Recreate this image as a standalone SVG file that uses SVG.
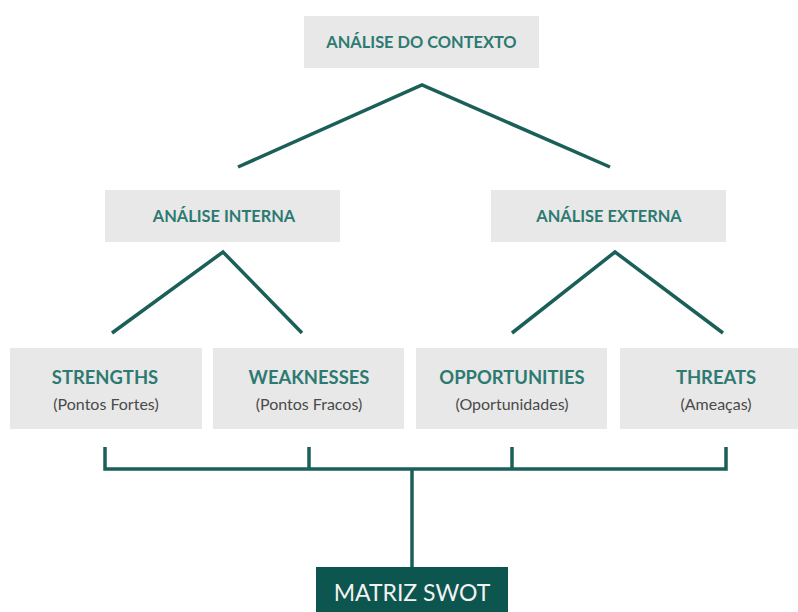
<svg xmlns="http://www.w3.org/2000/svg" width="798" height="612" viewBox="0 0 798 612">
  <style>
    .box { fill: #e8e8e8; }
    .head { font-family: Lato, "Open Sans", sans-serif; font-weight: bold; fill: #2d7a72; text-anchor: middle; }
    .h1 { font-size: 16.4px; }
    .h2 { font-size: 18.4px; }
    .sub { font-family: Lato, "Open Sans", sans-serif; font-size: 16px; fill: #4a4a4a; text-anchor: middle; }
    .conn { fill: none; stroke: #1b5f59; stroke-width: 3.5; stroke-linejoin: miter; }
    .swot { fill: #0d554f; }
    .swot-t { font-family: Lato, "Open Sans", sans-serif; font-size: 23px; fill: #f2f2f2; text-anchor: middle; }
  </style>
  <rect width="798" height="612" fill="#ffffff"/>

  <g id="connectors">
    <polyline class="conn" points="238,167 422,85 610,167"/>
    <polyline class="conn" points="112,333 223,252 302,333"/>
    <polyline class="conn" points="512,333 615,252 723,333"/>
    <polyline class="conn" points="105,447 105,469 726,469 726,447"/>
    <line class="conn" x1="309" y1="447" x2="309" y2="469"/>
    <line class="conn" x1="512" y1="447" x2="512" y2="469"/>
    <line class="conn" x1="412" y1="469" x2="412" y2="567"/>
  </g>

  <g id="analise-contexto">
    <rect class="box" x="304" y="16" width="235" height="52"/>
    <text class="head h1" x="421.5" y="48">ANÁLISE DO CONTEXTO</text>
  </g>

  <g id="analise-interna">
    <rect class="box" x="105" y="190" width="235" height="52"/>
    <text class="head h1" x="224" y="221.5">ANÁLISE INTERNA</text>
  </g>

  <g id="analise-externa">
    <rect class="box" x="491" y="190" width="235" height="52"/>
    <text class="head h1" x="609" y="221.5">ANÁLISE EXTERNA</text>
  </g>

  <g id="strengths">
    <rect class="box" x="10" y="348" width="192" height="81"/>
    <text class="head h2" x="105" y="384">STRENGTHS</text>
    <text class="sub" x="106" y="410">(Pontos Fortes)</text>
  </g>

  <g id="weaknesses">
    <rect class="box" x="213" y="348" width="191" height="81"/>
    <text class="head h2" x="309" y="384">WEAKNESSES</text>
    <text class="sub" x="309" y="410">(Pontos Fracos)</text>
  </g>

  <g id="opportunities">
    <rect class="box" x="416" y="348" width="191" height="81"/>
    <text class="head h2" x="512" y="384">OPPORTUNITIES</text>
    <text class="sub" x="512" y="410">(Oportunidades)</text>
  </g>

  <g id="threats">
    <rect class="box" x="620" y="348" width="178" height="81"/>
    <text class="head h2" x="716" y="384">THREATS</text>
    <text class="sub" x="716" y="410">(Ameaças)</text>
  </g>

  <g id="matriz-swot">
    <rect class="swot" x="316" y="567" width="192" height="45"/>
    <text class="swot-t" x="412" y="601">MATRIZ SWOT</text>
  </g>
</svg>
